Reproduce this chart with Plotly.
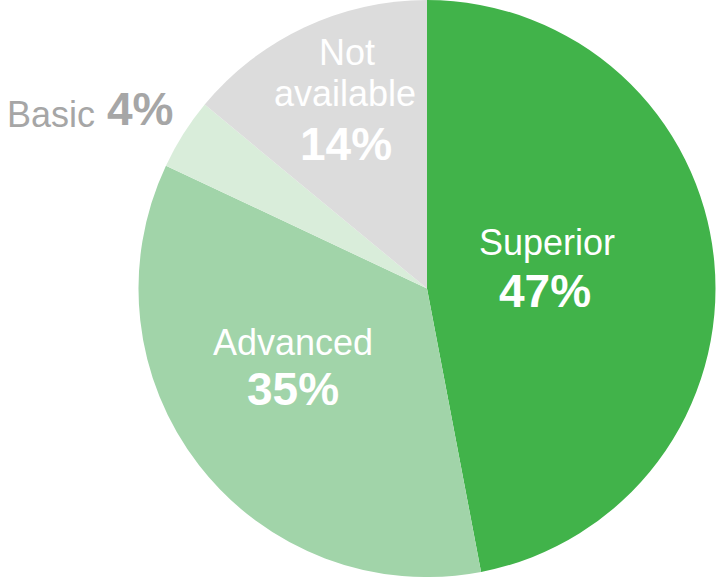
import plotly.graph_objects as go

# Share of schools by rating
categories = ["Superior", "Advanced", "Basic", "Not available"]
shares = [47, 35, 4, 14]
colors = ["#41B34A", "#A1D4A9", "#D9EDDA", "#DCDCDC"]

W, H = 718, 577
FONT = "Liberation Sans, Arial, sans-serif"
LABEL_SIZE = 36
PCT_SIZE = 46

fig = go.Figure(
    go.Pie(
        labels=categories,
        values=shares,
        sort=False,
        direction="clockwise",
        rotation=0,
        marker=dict(colors=colors, line=dict(width=0)),
        textinfo="none",
        hoverinfo="label+percent",
        showlegend=False,
        domain=dict(x=[138.5 / W, 715.5 / W], y=[0, 1]),
    )
)

# text block layout: label lines (x, y, anchor) and percent (x, y, anchor), colour
label_layout = {
    "Superior": ([("Superior", 547, 242, "center")], (545, 291, "center"), "white"),
    "Advanced": ([("Advanced", 293, 342, "center")], (293, 389, "center"), "white"),
    "Basic": ([("Basic", 5, 114, "left")], (105, 109, "left"), "#A6A6A6"),
    "Not available": ([("Not", 347, 52, "center"), ("available", 345, 94, "center")],
                      (346, 144, "center"), "white"),
}


def px(x, y):
    return x / W, 1 - y / H


ann = []
for name, share in zip(categories, shares):
    lines, (pxx, pyy, panchor), col = label_layout[name]
    for text, lx, ly, anchor in lines:
        x, y = px(lx, ly)
        ann.append(dict(
            x=x, y=y, xref="paper", yref="paper", text=text,
            showarrow=False, xanchor=anchor, yanchor="middle",
            font=dict(family=FONT, size=LABEL_SIZE, color=col),
        ))
    x, y = px(pxx, pyy)
    ann.append(dict(
        x=x, y=y, xref="paper", yref="paper", text=f"<b>{share}%</b>",
        showarrow=False, xanchor=panchor, yanchor="middle",
        font=dict(family=FONT, size=PCT_SIZE, color=col),
    ))

fig.update_layout(
    width=W, height=H,
    margin=dict(l=0, r=0, t=0, b=0),
    paper_bgcolor="white", plot_bgcolor="white",
    annotations=ann,
)

fig.write_html("out.html")
